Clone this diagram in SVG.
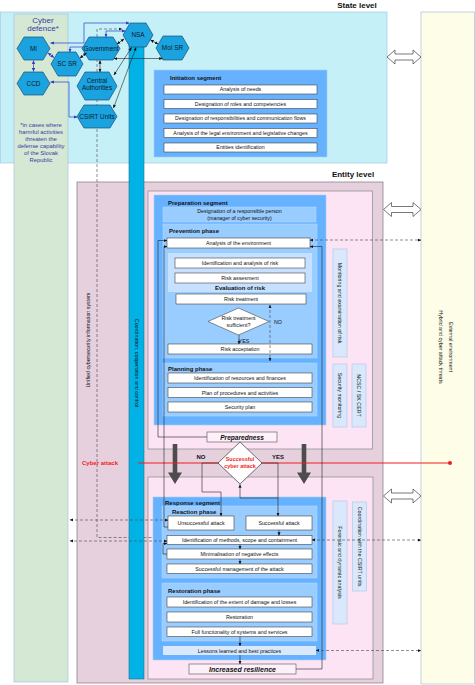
<svg xmlns="http://www.w3.org/2000/svg" width="475" height="685" viewBox="0 0 475 685">
<style>
.t{font-family:"Liberation Sans",Arial,sans-serif;font-size:5.3px;fill:#111;text-anchor:middle}
.h{font-family:"Liberation Sans",Arial,sans-serif;font-size:6px;font-weight:bold;fill:#111}
.L{font-family:"Liberation Sans",Arial,sans-serif;font-size:8px;font-weight:bold;fill:#111;text-anchor:middle}
.hx{font-family:"Liberation Sans",Arial,sans-serif;font-size:6.4px;fill:#0b1a33;text-anchor:middle}
.cd{font-family:"Liberation Sans",Arial,sans-serif;fill:#3a3aa8;text-anchor:middle}
.b{fill:#fff;stroke:#444;stroke-width:0.6}
.seg{fill:#66b2ff;stroke:#a8cdf2;stroke-width:0.6}
.ph{fill:#99ccff;stroke:#b8dbff;stroke-width:0.5}
.lb{fill:#dae8fc;stroke:#a9c4eb;stroke-width:0.6}
.hex{fill:#1aa3de;stroke:#1c4f7c;stroke-width:0.7}
.c{fill:none;stroke:#222;stroke-width:0.6}
.cb{fill:none;stroke:#2b3cc4;stroke-width:0.7}
.d{fill:none;stroke:#444;stroke-width:0.6;stroke-dasharray:3 2}
.bi{font-family:"Liberation Sans",Arial,sans-serif;font-weight:bold;font-style:italic;fill:#111;text-anchor:middle}
.ha{fill:#fff;stroke:#555;stroke-width:0.8}
.ga{fill:#4d4d4d}
.red{font-family:"Liberation Sans",Arial,sans-serif;font-weight:bold;fill:#f21c1c;text-anchor:middle}
</style>
<defs>
<marker id="k" viewBox="0 0 6 6" refX="5.5" refY="3" markerWidth="3.6" markerHeight="3.6" markerUnits="userSpaceOnUse" orient="auto-start-reverse"><path d="M0 0.5L6 3L0 5.5z" fill="#111"/></marker>
<marker id="u" viewBox="0 0 6 6" refX="5.5" refY="3" markerWidth="3.8" markerHeight="3.8" markerUnits="userSpaceOnUse" orient="auto-start-reverse"><path d="M0 0.5L6 3L0 5.5z" fill="#2b3cc4"/></marker>
</defs>
<rect width="475" height="685" fill="#fff"/>

<g id="areas">
<rect x="0.5" y="12" width="386.5" height="151" fill="#c5f0f8" stroke="#9ec9e2" stroke-width="0.7"/>
<rect x="14" y="14" width="54" height="668" fill="#d5e8d4" stroke="#aac4dc" stroke-width="0.7"/>
<rect x="421" y="12" width="53.5" height="672" fill="#fdfde8" stroke="#a6bfdc" stroke-width="0.7"/>
<rect x="77" y="182" width="306" height="501" fill="#e6d0de" stroke="#7a7a7a" stroke-width="0.7"/>
<rect x="148" y="191" width="224.5" height="258" fill="#fce4f4" stroke="#888" stroke-width="0.7"/>
<rect x="148" y="477" width="225" height="202" fill="#fce4f4" stroke="#888" stroke-width="0.7"/>
<text class="L" x="357" y="8">State level</text>
<text class="L" x="353" y="177">Entity level</text>
<text class="cd" x="43" y="23" font-size="8">Cyber</text>
<text class="cd" x="43" y="31" font-size="8">defence*</text>
<g class="cd" font-size="5.9">
<text x="41" y="127">*in cases where</text>
<text x="41" y="134">harmful activities</text>
<text x="41" y="141">threaten the</text>
<text x="41" y="148">defense capability</text>
<text x="41" y="155">of the Slovak</text>
<text x="41" y="162">Republic</text>
</g>
<text class="t" font-size="7" transform="translate(448.5,347) rotate(90)">External environment</text>
<text class="t" font-size="7" transform="translate(439,347) rotate(90)">Hybrid and cyber attack threats</text>
<text class="t" font-size="5.5" fill="#333" transform="translate(90,340) rotate(-90)">Unified cybersecurity information system</text>
</g>

<g id="double-arrows">
<polygon class="ha" points="387,57 395,50 395,54 413,54 413,50 421,57 413,64 413,60 395,60 395,64"/>
<polygon class="ha" points="383.5,209.5 391.5,202.5 391.5,206.5 413,206.5 413,202.5 421,209.5 413,216.5 413,212.5 391.5,212.5 391.5,216.5"/>
<polygon class="ha" points="383.5,496 391.5,489 391.5,493 413,493 413,489 421,496 413,503 413,499 391.5,499 391.5,503"/>
</g>

<g id="unified-line">
<path class="d" d="M122 29H97V537.5H166.5" marker-start="url(#k)" marker-end="url(#k)"/>
</g>

<g id="initiation">
<rect class="seg" x="154" y="70" width="173" height="87"/>
<text class="h" x="170" y="79.5">Initiation segment</text>
<rect class="b" x="164" y="85" width="153" height="9"/><text class="t" x="240.5" y="91.4">Analysis of needs</text>
<rect class="b" x="164" y="99.5" width="153" height="9"/><text class="t" x="240.5" y="105.9">Designation of roles and competencies</text>
<rect class="b" x="164" y="114" width="153" height="9"/><text class="t" x="240.5" y="120.4" font-size="5.1">Designation of responsibilities and communication flows</text>
<rect class="b" x="164" y="128.5" width="153" height="9"/><text class="t" x="240.5" y="134.9" font-size="5">Analysis of the legal environment and legislative changes</text>
<rect class="b" x="164" y="143" width="153" height="9"/><text class="t" x="240.5" y="149.4">Entities identification</text>
</g>

<g id="preparation">
<rect class="seg" x="154" y="195" width="172" height="230"/>
<text class="h" x="168" y="205">Preparation segment</text>
<rect class="ph" x="163" y="207" width="153" height="15"/>
<text class="t" x="239.5" y="213.3">Designation of a responsible person</text>
<text class="t" x="239.5" y="219.8">(manager of cyber security)</text>
<rect class="ph" x="163" y="224" width="154" height="134"/>
<text class="h" x="169" y="233">Prevention phase</text>
<rect class="b" x="167" y="238" width="143" height="10"/><text class="t" x="238.5" y="245">Analysis of the environment</text>
<rect x="168" y="253" width="144" height="39" fill="#c6e1ff"/>
<rect class="b" x="175" y="258" width="130" height="10"/><text class="t" x="240" y="265">Identification and analysis of risk</text>
<rect class="b" x="175" y="273" width="130" height="10"/><text class="t" x="240" y="280">Risk assesment</text>
<text class="h" x="240" y="290" text-anchor="middle">Evaluation of risk</text>
<rect class="b" x="176" y="294" width="130" height="10"/><text class="t" x="241" y="301">Risk treatment</text>
<polygon class="b" points="208,321.5 238.5,308 269,321.5 238.5,335"/>
<text class="t" x="238.5" y="319.5">Risk treatment</text>
<text class="t" x="238.5" y="326.5">sufficient?</text>
<text class="t" x="278" y="323.5" font-size="5.8">NO</text>
<text class="t" x="244" y="342.5" font-size="5.8" text-anchor="start">YES</text>
<rect class="b" x="168" y="344" width="144" height="10"/><text class="t" x="240" y="351">Risk acceptation</text>
<rect class="ph" x="163" y="363" width="154" height="53"/>
<text class="h" x="168" y="371">Planning phase</text>
<rect class="b" x="168" y="373" width="144" height="10"/><text class="t" x="240" y="380">Identification of resources and finances</text>
<rect class="b" x="168" y="387.5" width="144" height="10"/><text class="t" x="240" y="394.5">Plan of procedures and activities</text>
<rect class="b" x="168" y="402" width="144" height="10"/><text class="t" x="240" y="409">Security plan</text>
<rect x="207" y="432" width="70" height="10" fill="#fdf0f8" stroke="#555" stroke-width="0.6"/>
<text class="bi" x="242" y="439.6" font-size="6.6">Preparedness</text>
</g>

<g id="side-labels">
<rect class="lb" x="333" y="249" width="14" height="108"/>
<text class="t" font-size="5.2" transform="translate(338.3,303) rotate(90)">Monitoring and examination of risk</text>
<rect class="lb" x="333" y="364" width="14" height="63"/>
<text class="t" font-size="5.2" transform="translate(338.3,395.5) rotate(90)">Security monitoring</text>
<rect class="lb" x="352" y="364" width="14" height="63"/>
<text class="t" font-size="5.2" transform="translate(357.3,395.5) rotate(90)">NCSC / SK CERT</text>
<rect class="lb" x="333" y="501" width="14" height="123"/>
<text class="t" font-size="5.2" transform="translate(338.3,562.5) rotate(90)">Forensic and dynamic analysis</text>
<rect class="lb" x="352.5" y="502" width="14" height="89"/>
<text class="t" font-size="5.2" transform="translate(357.8,546.5) rotate(90)">Coordination with the CSIRT units</text>
</g>

<g id="response">
<rect class="seg" x="153" y="497" width="173" height="163"/>
<text class="h" x="165" y="504.5">Response segment</text>
<rect class="ph" x="162" y="506" width="155" height="72"/>
<text class="h" x="172" y="513.5">Reaction phase</text>
<rect class="b" x="168" y="516" width="66" height="14"/><text class="t" x="201" y="525" font-size="6">Unsuccessful attack</text>
<rect class="b" x="246" y="516" width="66" height="14"/><text class="t" x="279" y="525" font-size="6">Successful attack</text>
<rect class="b" x="167" y="535.5" width="145" height="9"/><text class="t" x="239.5" y="542">Identification of methods, scope and containment</text>
<rect class="b" x="167" y="549" width="145" height="10"/><text class="t" x="239.5" y="556">Minimalisation of negative effects</text>
<rect class="b" x="167" y="564" width="145" height="9.5"/><text class="t" x="239.5" y="570.8">Successful management of the attack</text>
<rect class="ph" x="162" y="583" width="155" height="58"/>
<text class="h" x="168" y="593">Restoration phase</text>
<rect class="b" x="167" y="597" width="145" height="10"/><text class="t" x="239.5" y="604">Identification of the extent of damage and losses</text>
<rect class="b" x="167" y="612" width="145" height="10"/><text class="t" x="239.5" y="619">Restoration</text>
<rect class="b" x="167" y="627" width="145" height="9.5"/><text class="t" x="239.5" y="633.8">Full functionality of systems and services</text>
<rect x="163" y="646" width="153" height="9" fill="#dae8fc"/>
<text class="t" x="239.5" y="652.5" font-size="5">Lessons learned and best practices</text>
<rect x="189" y="664" width="107" height="10" fill="#fdf0f8" stroke="#555" stroke-width="0.6"/>
<text class="bi" x="242.5" y="671.6" font-size="7">Increased resilience</text>
</g>

<g id="coordination-bar">
<rect x="129" y="40" width="15" height="639" fill="#00b2e6" stroke="#1e6f8f" stroke-width="0.6"/>
<text class="t" font-size="5.5" fill="#0b1a33" transform="translate(134.6,363) rotate(90)">Coordination, cooperation and control</text>
</g>

<g id="attack">
<polygon class="ga" points="172.7,444 177.3,444 177.3,472.5 182,472.5 175,484 168,472.5 172.7,472.5"/>
<polygon class="ga" points="301.7,444 306.3,444 306.3,472.5 311,472.5 304,484 297,472.5 301.7,472.5"/>
<line x1="138" y1="463" x2="450" y2="463" stroke="#f21c1c" stroke-width="1"/>
<circle cx="450" cy="463" r="2" fill="#f21c1c"/>
<text class="red" x="100" y="465" font-size="6">Cyber attack</text>
<polygon points="218,463 240,442 262,463 240,484" fill="#fff" stroke="#333" stroke-width="0.7"/>
<text class="red" x="240" y="461" font-size="5.4">Successful</text>
<text class="red" x="240" y="467.5" font-size="5.4">cyber attack</text>
<text class="h" x="201" y="459" text-anchor="middle">NO</text>
<text class="h" x="278" y="459" text-anchor="middle">YES</text>
</g>

<g id="hexagons">
<g id="mi"><polygon class="hex" points="17,48.5 24,37 43,37 50,48.5 43,60 24,60"/><text class="hx" x="33.5" y="50.8">MI</text></g>
<g id="ccd"><polygon class="hex" points="17,83.5 24,72 43,72 50,83.5 43,95 24,95"/><text class="hx" x="33.5" y="85.8">CCD</text></g>
<g id="scsr"><polygon class="hex" points="51,64 58,52 76,52 83,64 76,76 58,76"/><text class="hx" x="67" y="66.3">SC SR</text></g>
<g id="government"><polygon class="hex" points="82,48.5 89,37 113,37 120,48.5 113,60 89,60"/><text class="hx" x="101" y="50.8">Government</text></g>
<g id="central"><polygon class="hex" points="77,86 85,72 109,72 117,86 109,100 85,100"/><text class="hx" x="97" y="82.5">Central</text><text class="hx" x="97" y="89.5">Authorities</text></g>
<g id="csirt"><polygon class="hex" points="77,116.5 84,105 110,105 117,116.5 110,128 84,128"/><text class="hx" x="97" y="119">CSIRT Units</text></g>
<g id="nsa"><polygon class="hex" points="123,35 130,23 146,23 153,35 146,47 130,47"/><text class="hx" x="138" y="37.4">NSA</text></g>
<g id="moisr"><polygon class="hex" points="156,48 163,36 182,36 189,48 182,60 163,60"/><text class="hx" x="172.5" y="50.4">MoI SR</text></g>
</g>

<g id="connectors">
<path class="cb" d="M129 23H84V43H50.5" marker-start="url(#u)" marker-end="url(#u)"/>
<path class="cb" d="M125 31H106V37" marker-start="url(#u)" marker-end="url(#u)"/>
<path class="cb" d="M83 47H70V52" marker-end="url(#u)"/>
<path class="cb" d="M48 53L54 57.5" marker-start="url(#u)" marker-end="url(#u)"/>
<path class="cb" d="M33.5 60.5V71.5" marker-start="url(#u)" marker-end="url(#u)"/>
<path class="cb" d="M50.5 82H69V117H77" marker-start="url(#u)" marker-end="url(#u)"/>
<path class="c" d="M80 58L86.5 53" marker-start="url(#k)" marker-end="url(#k)"/>
<path class="c" d="M117 44L124 39" marker-start="url(#k)" marker-end="url(#k)"/>
<path class="c" d="M150.5 40L158 44" marker-start="url(#k)" marker-end="url(#k)"/>
<path class="c" d="M114 58.5H162.5" marker-start="url(#k)" marker-end="url(#k)"/>
<path class="c" d="M100 60.5V72" marker-start="url(#k)" marker-end="url(#k)"/>
<path class="c" d="M131.5 47.5L114 75" marker-start="url(#k)" marker-end="url(#k)"/>
<path class="c" d="M136 47.5L113.5 108" marker-start="url(#k)" marker-end="url(#k)"/>
<path class="c" d="M207 437H158V240.5H167" marker-end="url(#k)"/>
<path class="c" d="M168 527H164V246.5H167" marker-end="url(#k)"/>
<path class="c" d="M296 669H322V246.5H310" marker-end="url(#k)"/>
<path class="c" d="M239 335V344" marker-end="url(#k)"/>
<path class="d" d="M270 305V361" marker-start="url(#k)" marker-end="url(#k)"/>
<path class="d" d="M310 240H421" marker-start="url(#k)" marker-end="url(#k)"/>
<path class="c" d="M218 463H202V492H221V516" marker-end="url(#k)"/>
<path class="c" d="M262 463H278V516" marker-end="url(#k)"/>
<path class="c" d="M278 498H240V484.5" marker-end="url(#k)"/>
<path class="d" d="M168 520H70" marker-start="url(#k)" marker-end="url(#k)"/>
<path class="d" d="M167 541H70" marker-start="url(#k)" marker-end="url(#k)"/>
<path class="c" d="M167 554H163V543.5H167" marker-end="url(#k)"/>
<path class="d" d="M312 540H421" marker-start="url(#k)" marker-end="url(#k)"/>
<path class="d" d="M316 650.5H421" marker-start="url(#k)" marker-end="url(#k)"/>
<path class="c" d="M279 530V535.5" marker-end="url(#k)"/>
<path class="c" d="M240 544.5V549" marker-end="url(#k)"/>
<path class="c" d="M240 559V564" marker-end="url(#k)"/>
<path class="c" d="M240 636.5V646" marker-end="url(#k)"/>
<path class="c" d="M240 655V664" marker-end="url(#k)"/>
</g>
</svg>
